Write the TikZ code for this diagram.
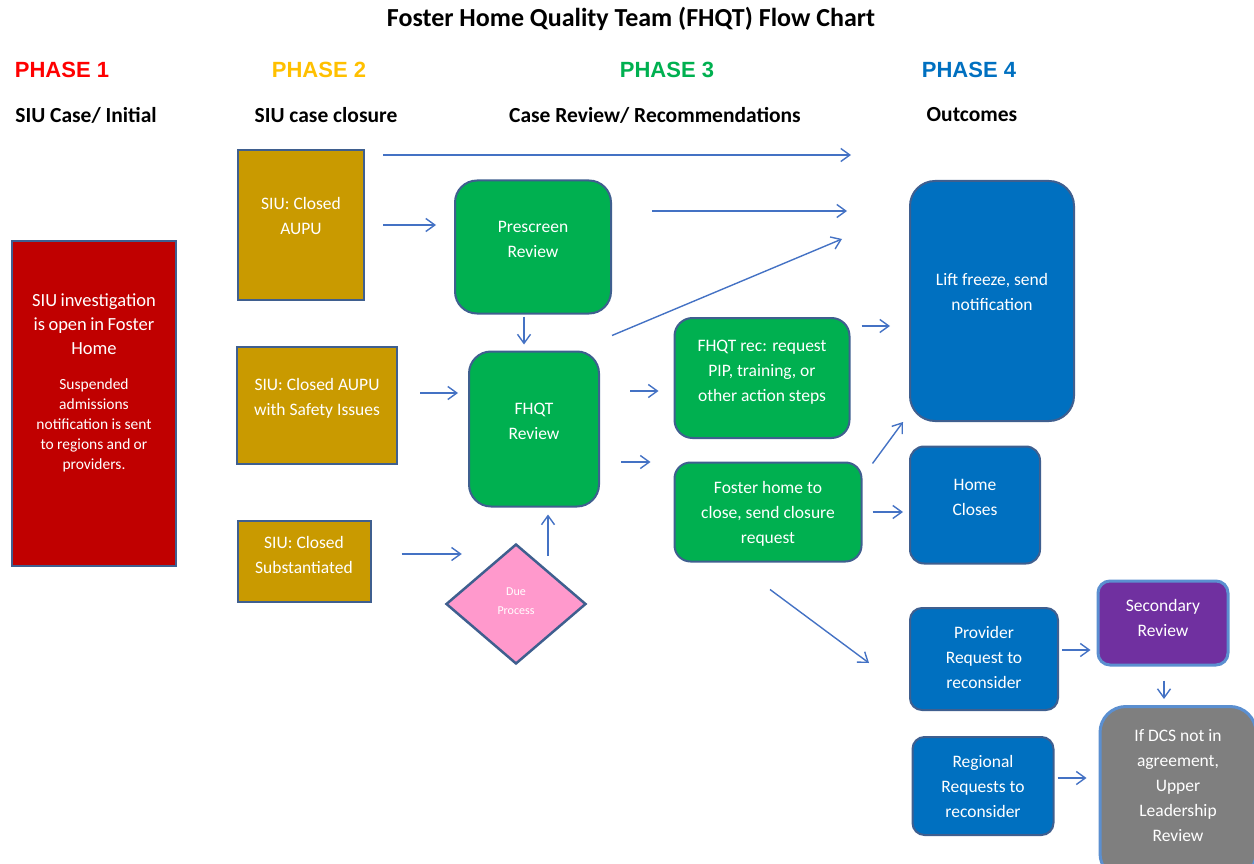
\documentclass[tikz,border=0pt]{standalone}
\usepackage{fontspec}
\setmainfont{Carlito}
\newfontfamily\phasefont{Liberation Sans}
\usepackage{xcolor}
\usetikzlibrary{positioning, arrows.meta, calc, shapes.geometric}
\definecolor{edgeblue}{HTML}{3F5F8F}
\definecolor{lightedge}{HTML}{5B8FD0}
\definecolor{arrowblue}{HTML}{4472C4}
\definecolor{siured}{HTML}{C00000}
\definecolor{siugold}{HTML}{C99A00}
\definecolor{fhqtgreen}{HTML}{00B050}
\definecolor{outblue}{HTML}{0070C0}
\definecolor{secpurple}{HTML}{7030A0}
\definecolor{dcsgray}{HTML}{7F7F7F}
\definecolor{duepink}{HTML}{FF99CC}
\definecolor{phaseone}{HTML}{FF0000}
\definecolor{phasetwo}{HTML}{FFC000}

\tikzset{
  phase/.style={font=\phasefont\bfseries\fontsize{22}{24}\selectfont},
  stage/.style={font=\bfseries\fontsize{21.5}{24}\selectfont},
  box/.style={draw=edgeblue, line width=2pt, text=white, align=center,
              inner sep=3pt, text depth=15.5pt, font=\fontsize{17.5}{25}\selectfont},
  siubox/.style={box, fill=siugold},
  greenbox/.style={box, fill=fhqtgreen, rounded corners=22pt},
  bluebox/.style={box, fill=outblue, rounded corners=18pt},
  flow/.style={draw=arrowblue, line width=1.4pt,
               -{Straight Barb[length=9pt, width=13pt]}},
}

\begin{document}
\begin{tikzpicture}[x=1pt, y=-1pt]
  \useasboundingbox (0,0) rectangle (1254,864);
  \clip (0,0) rectangle (1254,864);

  % headings
  \node[font=\bfseries\fontsize{26}{30}\selectfont] (title) at (631,19) {Foster Home Quality Team (FHQT) Flow Chart};
  \node[phase, text=phaseone] (ph1) at (62,70) {PHASE 1};
  \node[phase, text=phasetwo] (ph2) at (319,70) {PHASE 2};
  \node[phase, text=fhqtgreen] (ph3) at (667,70) {PHASE 3};
  \node[phase, text=outblue] (ph4) at (969,70) {PHASE 4};
  \node[stage] (st1) at (86,115) {SIU Case/ Initial};
  \node[stage] (st2) at (326,115) {SIU case closure};
  \node[stage] (st3) at (655,115) {Case Review/ Recommendations};
  \node[stage] (st4) at (972,115) {Outcomes};

  % phase 1
  \node[draw=edgeblue, line width=2pt, fill=siured, text=white, align=center,
        minimum width=164pt, minimum height=325pt, text width=150pt] (siu) at (94,403) {%
    {\fontsize{18.5}{24}\selectfont SIU investigation\\ is open in Foster\\ Home\par}
    \vspace{15pt}
    {\fontsize{15.5}{20}\selectfont Suspended\\ admissions\\ notification is sent\\ to regions and or\\ providers.\par}
    \vspace{40pt}};

  % phase 2
  \node[siubox, text depth=18.5pt, minimum width=126pt, minimum height=150pt] (aupu) at (301,225) {SIU: Closed\\AUPU};
  \node[siubox, text depth=16.5pt, minimum width=160pt, minimum height=117pt] (safety) at (317,405) {SIU: Closed AUPU\\with Safety Issues};
  \node[siubox, text depth=12.5pt, minimum width=133pt, minimum height=81pt] (subst) at (304,561) {SIU: Closed\\Substantiated};

  % phase 3
  \node[greenbox, minimum width=156pt, minimum height=133pt] (prescreen) at (533,247) {Prescreen\\Review};
  \node[greenbox, minimum width=130pt, minimum height=155pt] (fhqt) at (534,429) {FHQT\\Review};
  \node[diamond, draw=edgeblue, line width=2.5pt, fill=duepink, text=white, align=center,
        minimum width=140pt, minimum height=120pt, inner sep=0pt, text depth=6.5pt,
        font=\fontsize{12}{19}\selectfont] (due) at (516,604) {Due\\Process};
  \node[greenbox, text depth=13.5pt, rounded corners=18pt, minimum width=175pt, minimum height=120pt] (rec) at (762,378) {FHQT rec: request\\PIP, training, or\\other action steps};
  \node[greenbox, text depth=0pt, rounded corners=16pt, minimum width=187pt, minimum height=99pt] (close) at (768,512) {Foster home to\\close, send closure\\request};

  % phase 4
  \node[bluebox, text depth=18.5pt, rounded corners=25pt, minimum width=164pt, minimum height=240pt] (lift) at (992,301) {Lift freeze, send\\notification};
  \node[bluebox, rounded corners=14pt, minimum width=130pt, minimum height=117pt] (homes) at (975,505) {Home\\Closes};
  \node[bluebox, text depth=2.5pt, rounded corners=12pt, minimum width=148pt, minimum height=102pt] (provider) at (984,659) {Provider\\Request to\\reconsider};
  \node[bluebox, text depth=0pt, rounded corners=12pt, minimum width=141pt, minimum height=98pt] (regional) at (983,786) {Regional\\Requests to\\reconsider};
  \node[box, draw=lightedge, line width=3pt, fill=secpurple, rounded corners=12pt, text depth=10.5pt,
        minimum width=130pt, minimum height=84pt] (secondary) at (1163,623) {Secondary\\Review};
  \node[box, draw=lightedge, line width=3pt, fill=dcsgray, rounded corners=26pt,
        minimum width=156pt, minimum height=173pt] (dcs) at (1178,793) {If DCS not in\\agreement,\\Upper\\Leadership\\Review};

  % connectors
  \draw[flow] ($(aupu.north east)+(18,6)$) -- ($(lift.north west)+(-58,-25)$);
  \draw[flow, shorten <=18pt, shorten >=18pt] (aupu.east) -- (aupu.east -| prescreen.west);
  \draw[flow] ($(prescreen.east)+(40,-36)$) -- ($(lift.west)+(-62,-90)$);
  \draw[flow] ($(fhqt.north east)+(12,-15)$) -- ($(lift.west)+(-67,-62)$);
  \draw[flow] ($(prescreen.south)+(-9,2)$) -- ($(fhqt.north)+(-10,-6)$);
  \draw[flow] ($(safety.east)+(22,-12)$) -- ($(fhqt.west)+(-10,-36)$);
  \draw[flow] ($(fhqt.east)+(30,-38)$) -- ($(rec.west)+(-15,13)$);
  \draw[flow] ($(fhqt.east)+(21,33)$) -- ($(close.west)+(-23,-50)$);
  \draw[flow] ($(rec.east)+(11,-52)$) -- ($(lift.west)+(-19,25)$);
  \draw[flow] ($(close.north east)+(10,2)$) -- ($(lift.south west)+(-6,0)$);
  \draw[flow, shorten <=10pt, shorten >=6pt] (close.east) -- (close.east -| homes.west);
  \draw[flow] ($(close.south)+(2,27)$) -- ($(provider.west)+(-40,4)$);
  \draw[flow] ($(subst.east)+(30,-7)$) -- ($(due.west)+(17,-50)$);
  \draw[flow] ($(due.north)+(32,13)$) -- ($(fhqt.south)+(14,7)$);
  \draw[flow] ($(provider.east)+(3,-9)$) -- ($(secondary.west)+(-6,27)$);
  \draw[flow] ($(secondary.south)+(1,14)$) -- ($(dcs.north)+(-14,-6)$);
  \draw[flow] ($(regional.east)+(3,-8)$) -- ($(dcs.west)+(-12,-15)$);
\end{tikzpicture}
\end{document}
